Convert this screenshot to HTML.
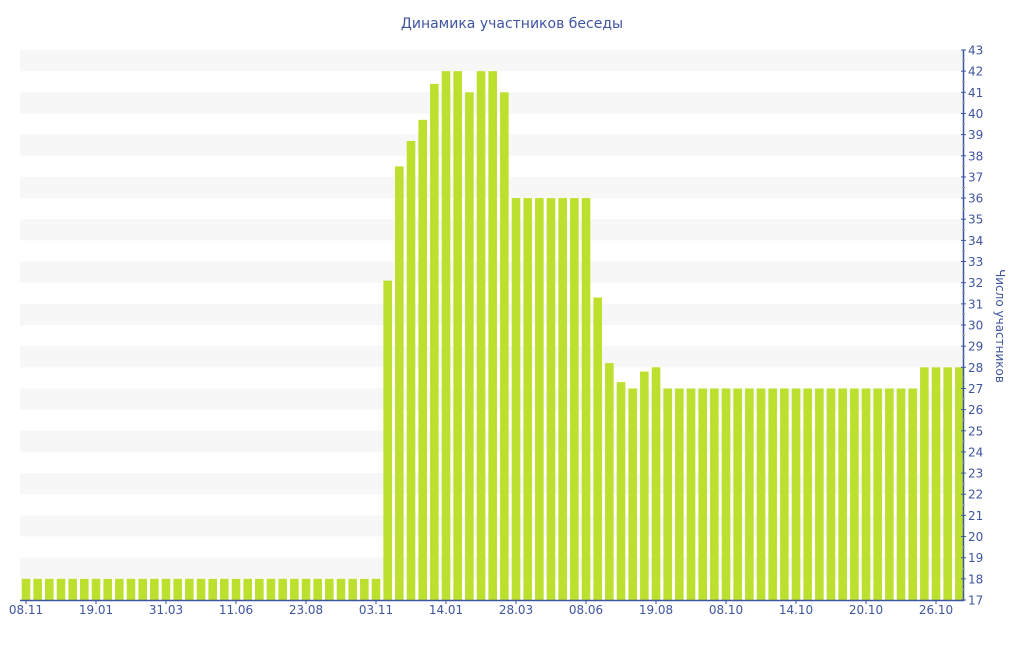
<!DOCTYPE html>
<html><head><meta charset="utf-8"><style>
body{margin:0;background:#fff;}
svg text{font-family:"DejaVu Sans","Liberation Sans",sans-serif;fill:#3e55a0;}
</style></head><body>
<svg width="1024" height="640" xmlns="http://www.w3.org/2000/svg">
<text x="512" y="28" font-size="14" text-anchor="middle">Динамика участников беседы</text>
<g id="bands"></g><g id="bars"></g>
<line x1="20" y1="600.5" x2="964" y2="600.5" stroke="#3e55a0" stroke-width="1.5"/>
<line x1="963.5" y1="50" x2="963.5" y2="601" stroke="#3e55a0" stroke-width="1.5"/>
<g id="yt"></g><g id="xt"></g>
<text transform="translate(996,326) rotate(90)" font-size="12" text-anchor="middle">Число участников</text>
</svg>
<script>
var ns="http://www.w3.org/2000/svg";
function el(t,a,p,txt){var e=document.createElementNS(ns,t);for(var k in a)e.setAttribute(k,a[k]);if(txt)e.textContent=txt;document.getElementById(p).appendChild(e);}
function Y(v){return 600-(v-17)*21.154;}
for(var v=18;v<43;v+=2)el('rect',{x:20,y:Y(v+1),width:943,height:21.154,fill:'#f7f7f7'},'bands');
var d=[];for(var i=0;i<31;i++)d.push(18);
d=d.concat([32.1,37.5,38.7,39.7,41.4,42,42,41,42,42,41,36,36,36,36,36,36,36,31.3,28.2,27.3,27,27.8,28]);
while(d.length<77)d.push(27);d.push(28,28,28,28);
for(var i=0;i<d.length;i++){var c=26+11.667*i;el('rect',{x:c-4.3,y:Y(d[i]),width:8.6,height:600-Y(d[i]),fill:'#bde02e'},'bars');}
for(var v=17;v<=43;v++){el('line',{x1:961,x2:966,y1:Y(v),y2:Y(v),stroke:'#3e55a0'},'yt');
 if(v<43)el('line',{x1:962,x2:965,y1:Y(v+0.5),y2:Y(v+0.5),stroke:'#aaa'},'yt');
 el('text',{x:968,y:Y(v)+4.5,'font-size':12},'yt',v);}
var L=['08.11','19.01','31.03','11.06','23.08','03.11','14.01','28.03','08.06','19.08','08.10','14.10','20.10','26.10'];
for(var i=0;i<L.length;i++){var x=26+70*i;el('line',{x1:x,x2:x,y1:600,y2:604,stroke:'#3e55a0'},'xt');el('text',{x:x,y:614,'font-size':12,'text-anchor':'middle'},'xt',L[i]);}
</script>
</body></html>
